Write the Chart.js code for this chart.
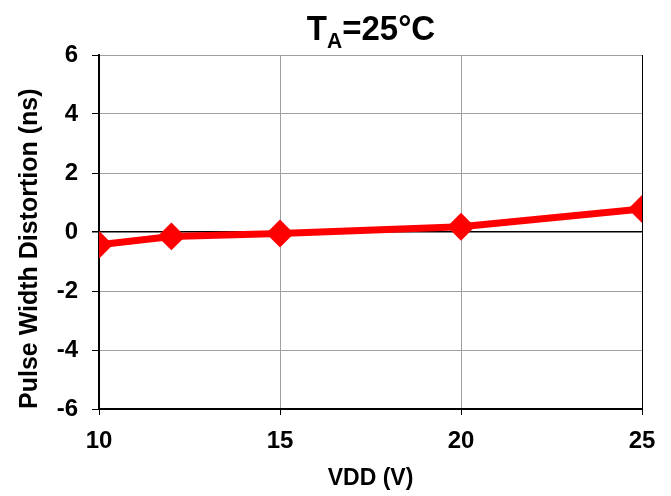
<!DOCTYPE html>
<html><head><meta charset="utf-8">
<script src="https://cdn.jsdelivr.net/npm/chart.js@4/dist/chart.umd.min.js"></script>
<style>html,body{margin:0;padding:0;background:#fff}#wrap{width:671px;height:496px}</style>
</head><body><div id="wrap"><canvas id="c" width="671" height="496"></canvas></div>
<script>
const vdd = [10, 12, 15, 20, 25];
const pwd = [-0.43, -0.15, -0.05, 0.18, 0.78];
const xTicks = [10, 15, 20, 25];
const yTicks = [-6, -4, -2, 0, 2, 4, 6];
const FONT = "'Liberation Sans', Arial, sans-serif";

const titlePlugin = {
  id: 'tatitle',
  afterDraw(chart) {
    const ctx = chart.ctx;
    ctx.save();
    ctx.fillStyle = '#000';
    ctx.textBaseline = 'alphabetic';
    const big = 'bold 33px ' + FONT, small = 'bold 21px ' + FONT;
    ctx.font = big; const wT = ctx.measureText('T').width;
    ctx.font = small; const wA = ctx.measureText('A').width;
    ctx.font = big; const wR = ctx.measureText('=25°C').width;
    const total = wT + wA + wR;
    let x = 371 - total / 2;
    const base = 40;
    ctx.translate(0, base);
    ctx.scale(1, 1.08);
    ctx.textAlign = 'left';
    ctx.font = big; ctx.fillText('T', x, 0); x += wT;
    ctx.font = small; ctx.fillText('A', x, 7); x += wA;
    ctx.font = big; ctx.fillText('=25°C', x, 0);
    ctx.restore();
  }
};

new Chart(document.getElementById('c'), {
  type: 'scatter',
  data: {
    datasets: [{
      data: vdd.map((v, i) => ({x: v, y: pwd[i]})),
      showLine: true,
      borderColor: '#ff0000',
      backgroundColor: '#ff0000',
      borderWidth: 7,
      pointStyle: 'rectRot',
      pointRadius: 9,
      pointHoverRadius: 9,
      tension: 0
    }]
  },
  options: {
    responsive: false,
    animation: false,
    layout: {padding: {top: 55, right: 29, left: 0, bottom: 0}},
    plugins: {legend: {display: false}, tooltip: {enabled: false}, title: {display: false}},
    scales: {
      x: {
        type: 'linear', min: 10, max: 25,
        afterBuildTicks: s => { s.ticks = xTicks.map(v => ({value: v})); },
        afterFit: s => { s.height = 87; },
        grid: {color: ctx => (ctx.tick && (ctx.tick.value === 10 || ctx.tick.value === 25)) ? '#000' : '#a0a0a0', lineWidth: 1, drawTicks: true, tickLength: 6, tickColor: '#000'},
        border: {display: true, color: '#000', width: 2},
        ticks: {color: '#000', font: {family: FONT, size: 24, weight: 'bold'}, padding: 12, maxRotation: 0},
        title: {display: true, text: 'VDD (V)', color: '#000', font: {family: FONT, size: 23, weight: 'bold'}, padding: {top: 2}}
      },
      y: {
        min: -6, max: 6,
        afterBuildTicks: s => { s.ticks = yTicks.map(v => ({value: v})); },
        afterFit: s => { s.width = 99; },
        grid: {color: ctx => (ctx.tick && ctx.tick.value === 0) ? '#000' : '#a0a0a0', lineWidth: ctx => (ctx.tick && ctx.tick.value === 0) ? 1.5 : 1, tickLength: 7, tickColor: '#000'},
        border: {display: true, color: '#000', width: 2},
        ticks: {color: '#000', font: {family: FONT, size: 24, weight: 'bold'}, padding: 14},
        title: {display: true, text: 'Pulse Width Distortion (ns)', align: 'start', color: '#000', font: {family: FONT, size: 25, weight: 'bold'}, padding: {top: 15, bottom: 0}}
      }
    }
  },
  plugins: [titlePlugin]
});
</script>
</body></html>
